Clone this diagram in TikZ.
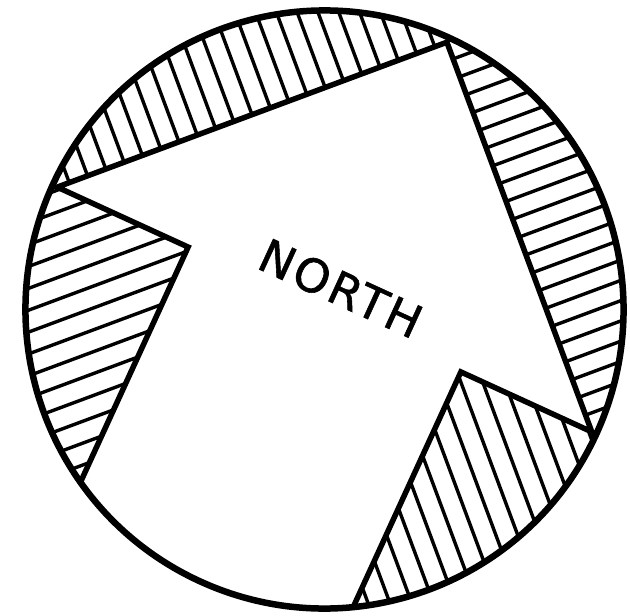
\documentclass[tikz,border=0pt]{standalone}
\usepackage{fontspec}
\newfontfamily\northfont[LetterSpace=6,FakeBold=1.2]{DejaVu Sans}
\begin{document}
\begin{tikzpicture}[x=1pt,y=1pt,
  rim/.style={line width=6.5pt},
  outline/.style={line width=5.5pt, line join=miter},
  hatchline/.style={line width=3.4pt}]
\useasboundingbox (0,-616) rectangle (630,0);
\fill[white] (0,-616) rectangle (630,0);
\begin{scope}[shift={(324.5,-309.5)}, rotate=-24.6]
  % top segment
  \begin{scope}
    \clip (0,0) circle[radius=299];
    \clip (-588,-294) -- (294,588) -- (-588,588) -- cycle;
    \begin{scope}[rotate=135]
      \foreach \k in {-20,...,20} \draw[hatchline] (-400,\k*19.5) -- (400,\k*19.5);
    \end{scope}
  \end{scope}
  % right segment
  \begin{scope}
    \clip (0,0) circle[radius=299];
    \clip (-294,588) -- (588,-294) -- (588,588) -- cycle;
    \begin{scope}[rotate=45]
      \foreach \k in {-20,...,20} \draw[hatchline] (-400,\k*19) -- (400,\k*19);
    \end{scope}
  \end{scope}
  % left region
  \begin{scope}
    \clip (0,0) circle[radius=299];
    \clip (-600,-600) rectangle (-150,0);
    \begin{scope}[rotate=45]
      \foreach \k in {-22,...,22} \draw[hatchline] (-400,\k*20.5) -- (400,\k*20.5);
    \end{scope}
  \end{scope}
  % bottom right region
  \begin{scope}
    \clip (0,0) circle[radius=299];
    \clip (150,-600) rectangle (600,0);
    \begin{scope}[rotate=135]
      \foreach \k in {-22,...,22} \draw[hatchline] (-400,\k*20.5) -- (400,\k*20.5);
    \end{scope}
  \end{scope}
  % arrow
  \coordinate (sl) at (-150,-258);
  \coordinate (bl) at (-150,0);
  \coordinate (tl) at (-294,0);
  \coordinate (tip) at (0,294);
  \coordinate (tr) at (294,0);
  \coordinate (br) at (150,0);
  \coordinate (sr) at (150,-258);
  \draw[outline] (sl) -- (bl) -- (tl) -- (tip) -- (tr) -- (br) -- (sr);
  % rim
  \coordinate (o) at (0,0);
  \draw[rim] (o) circle[radius=299];
  \node[font=\northfont\fontsize{46}{46}\selectfont, rotate=-24.6] (north) at (6,26) {NORTH};
\end{scope}
\end{tikzpicture}
\end{document}
